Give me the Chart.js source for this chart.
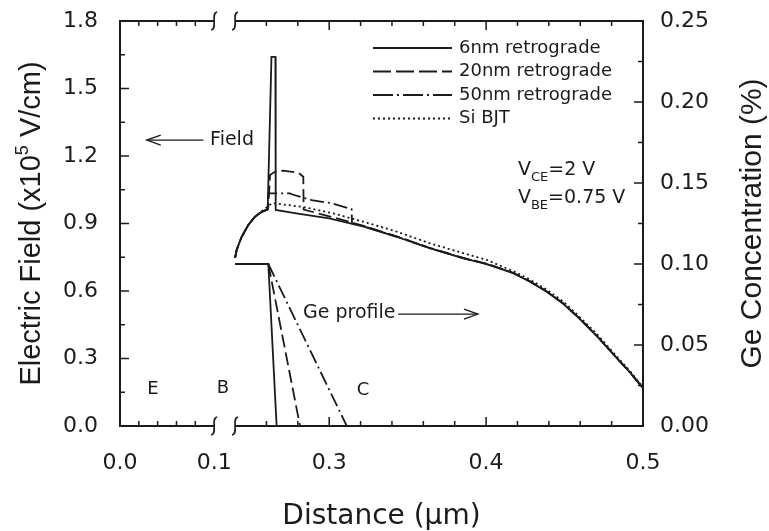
<!DOCTYPE html>
<html>
<head>
<meta charset="utf-8">
<script src="https://cdn.jsdelivr.net/npm/chart.js@4.4.1/dist/chart.umd.min.js"></script>
<style>
html, body { margin: 0; padding: 0; background: #fff; }
#wrap { width: 769px; height: 531px; }
</style>
</head>
<body>
<div id="wrap"><canvas id="fieldChart"></canvas></div>
<script>
// distance in um, field in 1e5 V/cm, Ge in %

const FIELD_6NM = [
    [0.240, 0.747], [0.241, 0.782], [0.2442, 0.841], [0.2484, 0.893], [0.2527, 0.930],
    [0.257, 0.952], [0.2608, 0.963], [0.2632, 1.641], [0.2657, 1.641], [0.2659, 0.960],
    [0.280, 0.944], [0.300, 0.923], [0.322, 0.886], [0.343, 0.841], [0.364, 0.790],
    [0.3855, 0.745], [0.400, 0.720], [0.4173, 0.679], [0.428, 0.641], [0.4386, 0.597],
    [0.4492, 0.543], [0.4598, 0.475], [0.4705, 0.400], [0.4811, 0.318], [0.4917, 0.238],
    [0.500, 0.168]
];

const FIELD_20NM = [
    [0.240, 0.747], [0.241, 0.782], [0.2442, 0.841], [0.2484, 0.893], [0.2527, 0.930],
    [0.257, 0.952], [0.2608, 0.963], [0.2612, 0.975], [0.2623, 1.116], [0.2654, 1.130],
    [0.2707, 1.135], [0.2803, 1.126], [0.2835, 1.108], [0.2837, 0.962], [0.300, 0.932],
    [0.322, 0.889], [0.343, 0.843], [0.364, 0.792], [0.3855, 0.747], [0.400, 0.722],
    [0.4173, 0.681], [0.428, 0.643], [0.4386, 0.599], [0.4492, 0.545], [0.4598, 0.477],
    [0.4705, 0.402], [0.4811, 0.320], [0.4917, 0.239], [0.500, 0.168]
];

const FIELD_50NM = [
    [0.240, 0.747], [0.241, 0.782], [0.2442, 0.841], [0.2484, 0.893], [0.2527, 0.930],
    [0.257, 0.952], [0.2608, 0.963], [0.2612, 1.034], [0.275, 1.034], [0.2761, 1.030],
    [0.2888, 1.004], [0.3016, 0.990], [0.3122, 0.968], [0.3143, 0.964], [0.3145, 0.902],
    [0.322, 0.888], [0.343, 0.842], [0.364, 0.791], [0.3855, 0.746], [0.400, 0.721],
    [0.4173, 0.680], [0.428, 0.642], [0.4386, 0.598], [0.4492, 0.544], [0.4598, 0.476],
    [0.4705, 0.401], [0.4811, 0.319], [0.4917, 0.238], [0.500, 0.168]
];

const FIELD_SI = [
    [0.240, 0.747], [0.241, 0.782], [0.2442, 0.841], [0.2484, 0.893], [0.2527, 0.930],
    [0.257, 0.955], [0.2608, 0.975], [0.2635, 0.990], [0.267, 0.988], [0.2846, 0.972],
    [0.3026, 0.945], [0.3217, 0.908], [0.343, 0.864], [0.3642, 0.812], [0.3855, 0.768],
    [0.4004, 0.738], [0.4173, 0.688], [0.428, 0.651], [0.4386, 0.606], [0.4492, 0.553],
    [0.4598, 0.483], [0.4705, 0.410], [0.4811, 0.326], [0.4917, 0.244], [0.500, 0.172]
];

const GE_6NM = [[0.240, 0.100], [0.2612, 0.100], [0.2665, 0.000]];
const GE_20NM = [[0.2612, 0.100], [0.2814, 0.000]];
const GE_50NM = [[0.2612, 0.100], [0.3112, 0.000]];

const SERIES_LABELS = ['6nm retrograde', '20nm retrograde', '50nm retrograde', 'Si BJT'];
const SERIES_DASH = [[], [13, 5], [14, 4, 2, 4], [2, 3]];

const X_TICKS = [0, 0.1, 0.3, 0.4, 0.5];
const X_MAJOR_MARKS = [0.3, 0.4];
const X_MINOR_MARKS = [0.02, 0.04, 0.06, 0.08, 0.26, 0.28, 0.32, 0.34, 0.36, 0.38, 0.42, 0.44, 0.46, 0.48];

const INK = '#1b1b1b';
const TEXT_FONT = '"DejaVu Sans", sans-serif';
const TITLE_FONT = '"Liberation Sans", Arial, sans-serif';

// broken distance axis: 0-0.1 squeezed on the left, the gap 0.1-0.24 hidden
const X_MAX = 0.5;
const BREAK_LO = 0.1, BREAK_HI = 0.24;
const FRAC_LO = 0.18, FRAC_HI = 0.22;

function distToFrac(v) {
    if (v <= BREAK_LO) return v / BREAK_LO * FRAC_LO;
    if (v >= BREAK_HI) return FRAC_HI + (v - BREAK_HI) / (X_MAX - BREAK_HI) * (1 - FRAC_HI);
    return FRAC_LO + (v - BREAK_LO) / (BREAK_HI - BREAK_LO) * (FRAC_HI - FRAC_LO);
}

function fracToDist(f) {
    if (f <= FRAC_LO) return f / FRAC_LO * BREAK_LO;
    if (f >= FRAC_HI) return BREAK_HI + (f - FRAC_HI) / (1 - FRAC_HI) * (X_MAX - BREAK_HI);
    return BREAK_LO + (f - FRAC_LO) / (FRAC_HI - FRAC_LO) * (BREAK_HI - BREAK_LO);
}

class BrokenScale extends Chart.LinearScale {
    getPixelForValue(value) {
        if (value === null || value === undefined || isNaN(value)) return NaN;
        return this.getPixelForDecimal(distToFrac(value));
    }
    getValueForPixel(pixel) {
        return fracToDist(this.getDecimalForPixel(pixel));
    }
}
BrokenScale.id = 'broken';
BrokenScale.defaults = Chart.LinearScale.defaults;
Chart.register(BrokenScale);

function toPoints(arr) {
    return arr.map(p => ({ x: p[0], y: p[1] }));
}

function lineSet(label, arr, dash, axis) {
    return {
        label: label,
        data: toPoints(arr),
        yAxisID: axis,
        borderColor: INK,
        borderWidth: 1.8,
        borderDash: dash,
        pointRadius: 0,
        fill: false,
        tension: 0
    };
}

const fieldData = [FIELD_6NM, FIELD_20NM, FIELD_50NM, FIELD_SI];
const geData = [GE_6NM, GE_20NM, GE_50NM];

const datasets = [];
fieldData.forEach((arr, i) => datasets.push(lineSet(SERIES_LABELS[i], arr, SERIES_DASH[i], 'y')));
geData.forEach((arr, i) => datasets.push(lineSet(SERIES_LABELS[i] + ' Ge', arr, SERIES_DASH[i], 'y2')));

// labels on the plot, in data units (y on the field axis)
const NOTES = [
    { text: 'E', x: 0.035, y: 0.164 },
    { text: 'B', x: 0.159, y: 0.168 },
    { text: 'C', x: 0.3215, y: 0.160 }
];

function drawArrow(ctx, x0, x1, y) {
    const dir = Math.sign(x1 - x0);
    ctx.beginPath();
    ctx.moveTo(x0, y);
    ctx.lineTo(x1, y);
    ctx.stroke();
    ctx.beginPath();
    ctx.moveTo(x1 - dir * 14, y - 5);
    ctx.lineTo(x1, y);
    ctx.lineTo(x1 - dir * 14, y + 5);
    ctx.stroke();
}

function drawBreak(ctx, x, y) {
    ctx.beginPath();
    ctx.moveTo(x + 3, y - 9);
    ctx.bezierCurveTo(x - 4, y - 8, x + 4, y + 8, x - 3, y + 9);
    ctx.stroke();
}

function drawSubText(ctx, x, y, main, sub, rest) {
    ctx.font = '19px ' + TEXT_FONT;
    ctx.fillText(main, x, y);
    x += ctx.measureText(main).width;
    ctx.font = '13px ' + TEXT_FONT;
    ctx.fillText(sub, x, y + 6);
    x += ctx.measureText(sub).width;
    ctx.font = '19px ' + TEXT_FONT;
    ctx.fillText(rest, x, y);
}

// keep the first/last tick labels from pushing the plot area inwards
function fixWidth(w) {
    return s => {
        s.width = w;
        s.paddingTop = 0;
        s.paddingBottom = 0;
    };
}

const decor = {
    id: 'decor',
    afterDraw(chart) {
        const { ctx, chartArea: a, scales } = chart;
        const xs = scales.x, yl = scales.y, yr = scales.y2;
        const gapL = xs.getPixelForValue(BREAK_LO);
        const gapR = xs.getPixelForValue(BREAK_HI);

        ctx.save();
        ctx.strokeStyle = INK;
        ctx.fillStyle = INK;

        // frame
        ctx.lineWidth = 2;
        ctx.beginPath();
        ctx.moveTo(gapL, a.top); ctx.lineTo(a.left, a.top); ctx.lineTo(a.left, a.bottom); ctx.lineTo(gapL, a.bottom);
        ctx.moveTo(gapR, a.top); ctx.lineTo(a.right, a.top); ctx.lineTo(a.right, a.bottom); ctx.lineTo(gapR, a.bottom);
        ctx.stroke();

        ctx.lineWidth = 1.6;
        [gapL, gapR].forEach(x => {
            drawBreak(ctx, x, a.top);
            drawBreak(ctx, x, a.bottom);
        });

        // inward ticks
        ctx.lineWidth = 1.5;
        ctx.beginPath();
        X_MAJOR_MARKS.forEach(v => {
            const px = xs.getPixelForValue(v);
            ctx.moveTo(px, a.bottom); ctx.lineTo(px, a.bottom - 9);
            ctx.moveTo(px, a.top); ctx.lineTo(px, a.top + 9);
        });
        X_MINOR_MARKS.forEach(v => {
            const px = xs.getPixelForValue(v);
            ctx.moveTo(px, a.bottom); ctx.lineTo(px, a.bottom - 5);
            ctx.moveTo(px, a.top); ctx.lineTo(px, a.top + 5);
        });
        [[yl, a.left, 1, 0.3], [yr, a.right, -1, 0.05]].forEach(([sc, x0, dir, step]) => {
            sc.ticks.forEach(t => {
                const py = sc.getPixelForValue(t.value);
                ctx.moveTo(x0, py); ctx.lineTo(x0 + dir * 9, py);
                if (t.value + step / 2 < sc.max) {
                    const pm = sc.getPixelForValue(t.value + step / 2);
                    ctx.moveTo(x0, pm); ctx.lineTo(x0 + dir * 5, pm);
                }
            });
        });
        ctx.stroke();

        // legend
        ctx.lineWidth = 1.8;
        ctx.font = '18px ' + TEXT_FONT;
        ctx.textBaseline = 'middle';
        ctx.textAlign = 'left';
        SERIES_LABELS.forEach((label, i) => {
            const y = a.top + 27 + i * 23.5;
            ctx.setLineDash(i === 1 ? [18, 5] : i === 2 ? [20, 4, 2, 4] : SERIES_DASH[i]);
            ctx.beginPath();
            ctx.moveTo(a.right - 270, y);
            ctx.lineTo(a.right - 191, y);
            ctx.stroke();
            ctx.setLineDash([]);
            ctx.fillText(label, a.right - 184, y);
        });

        // region letters
        ctx.font = '18px ' + TEXT_FONT;
        ctx.textAlign = 'center';
        NOTES.forEach(n => {
            ctx.fillText(n.text, xs.getPixelForValue(n.x), yl.getPixelForValue(n.y));
        });

        // Field and Ge profile pointers
        ctx.lineWidth = 1.3;
        ctx.textAlign = 'left';
        ctx.font = '19px ' + TEXT_FONT;
        const fy = yl.getPixelForValue(1.271);
        drawArrow(ctx, xs.getPixelForValue(0.0886), xs.getPixelForValue(0.0284), fy);
        ctx.fillText('Field', xs.getPixelForValue(0.0957), fy);
        const gy = yl.getPixelForValue(0.502);
        ctx.fillText('Ge profile', xs.getPixelForValue(0.2833), gy);
        drawArrow(ctx, xs.getPixelForValue(0.3439), xs.getPixelForValue(0.3948), gy + 1);

        // bias conditions
        ctx.textBaseline = 'alphabetic';
        const vx = xs.getPixelForValue(0.4203);
        drawSubText(ctx, vx, yl.getPixelForValue(1.116), 'V', 'CE', '=2 V');
        drawSubText(ctx, vx, yl.getPixelForValue(0.991), 'V', 'BE', '=0.75 V');

        // left axis title with superscript
        ctx.save();
        ctx.translate(32, (a.top + a.bottom) / 2);
        ctx.rotate(-Math.PI / 2);
        ctx.textBaseline = 'middle';
        const big = '29px ' + TITLE_FONT, small = '18px ' + TITLE_FONT;
        ctx.font = big;
        const p1 = 'Electric Field (x10', p3 = ' V/cm)';
        const w1 = ctx.measureText(p1).width, w3 = ctx.measureText(p3).width;
        ctx.font = small;
        const w2 = ctx.measureText('5').width;
        let tx = -(w1 + w2 + w3) / 2;
        ctx.font = big;
        ctx.fillText(p1, tx, 0);
        ctx.font = small;
        ctx.fillText('5', tx + w1, -9);
        ctx.font = big;
        ctx.fillText(p3, tx + w1 + w2, 0);
        ctx.restore();

        // right axis title
        ctx.save();
        ctx.translate(753, (a.top + a.bottom) / 2);
        ctx.rotate(-Math.PI / 2);
        ctx.textAlign = 'center';
        ctx.textBaseline = 'middle';
        ctx.font = '30px ' + TITLE_FONT;
        ctx.fillText('Ge Concentration (%)', 0, 0);
        ctx.restore();

        ctx.restore();
    }
};

const tickFont = { family: TEXT_FONT, size: 22 };

new Chart(document.getElementById('fieldChart'), {
    type: 'line',
    data: { datasets: datasets },
    options: {
        responsive: true,
        maintainAspectRatio: false,
        animation: false,
        events: [],
        layout: { padding: { top: 21, left: 0, right: 0, bottom: 0 } },
        plugins: {
            legend: { display: false },
            tooltip: { enabled: false }
        },
        scales: {
            x: {
                type: 'broken',
                min: 0,
                max: X_MAX,
                afterBuildTicks: s => { s.ticks = X_TICKS.map(v => ({ value: v })); },
                afterFit: s => { s.height = 105; },
                grid: { display: false, drawTicks: false },
                border: { display: false },
                ticks: {
                    autoSkip: false,
                    maxRotation: 0,
                    padding: 24,
                    color: INK,
                    font: tickFont,
                    callback: v => Number(v).toFixed(1)
                },
                title: {
                    display: true,
                    text: 'Distance (µm)',
                    color: INK,
                    font: { family: TEXT_FONT, size: 28 },
                    padding: { top: 0, bottom: -3 }
                }
            },
            y: {
                position: 'left',
                min: 0,
                max: 1.8,
                afterFit: fixWidth(120),
                grid: { display: false, drawTicks: false },
                border: { display: false },
                ticks: {
                    stepSize: 0.3,
                    padding: 22,
                    color: INK,
                    font: tickFont,
                    callback: v => Number(v).toFixed(1)
                }
            },
            y2: {
                position: 'right',
                min: 0,
                max: 0.25,
                afterFit: fixWidth(126),
                grid: { display: false, drawTicks: false },
                border: { display: false },
                ticks: {
                    stepSize: 0.05,
                    padding: 17,
                    color: INK,
                    font: tickFont,
                    callback: v => Number(v).toFixed(2)
                }
            }
        }
    },
    plugins: [decor]
});
</script>
</body>
</html>
